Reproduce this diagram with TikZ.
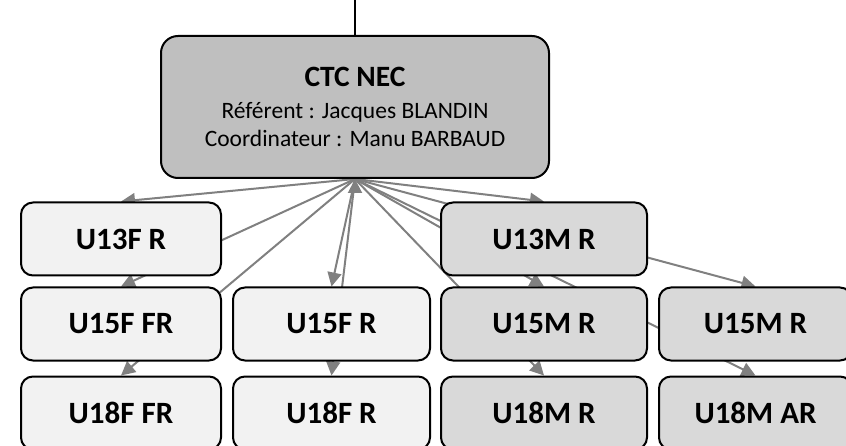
\documentclass[tikz,border=0pt]{standalone}
\usepackage{fontspec}
\setmainfont{Carlito}
\usetikzlibrary{positioning, arrows.meta, backgrounds}
\definecolor{headfill}{HTML}{BFBFBF}
\definecolor{girlfill}{HTML}{F2F2F2}
\definecolor{boyfill}{HTML}{D9D9D9}
\definecolor{linkgray}{HTML}{808080}

\begin{document}
\begin{tikzpicture}[x=1pt, y=1pt,
    team/.style={draw=black, line width=2pt, rounded corners=12pt,
        minimum width=200pt, minimum height=73pt, inner sep=0pt,
        font=\fontsize{31}{36}\selectfont\bfseries},
    girls/.style={team, fill=girlfill},
    boys/.style={team, fill=boyfill}]
    \useasboundingbox (0,0) rectangle (846,-446);
    % Add the head box
        \node[draw=black,
              line width=2pt,
              rounded corners=17pt,
              fill=headfill,
              minimum width=388pt,
              minimum height=142pt,
              align=center,
              font=\fontsize{23.5}{28}\selectfont
              ] (ctc) at (355,-107) {{\fontsize{29.5}{28}\selectfont\bfseries CTC NEC}\\[4pt]Référent : Jacques BLANDIN\\Coordinateur : Manu BARBAUD};
        \coordinate[above=36pt of ctc.north] (feed);
        \draw[line width=2pt] (feed) -- (ctc.north);
    % Add the teams
        \node[girls] (u13f) at (121,-239) {U13F R};
		\node[girls,
			below=10pt of u13f
			] (u15ffr) {U15F FR};
		\node[girls,
			below=14pt of u15ffr
			] (u18ffr) {U18F FR};
		\node[girls,
			minimum width=197pt,
			right=10pt of u15ffr
			] (u15fr) {U15F R};
		\node[girls,
			minimum width=197pt,
			right=10pt of u18ffr
			] (u18fr) {U18F R};
		\node[boys,
			minimum width=206pt,
			right=9pt of u15fr
			] (u15mr) {U15M R};
		\node[boys,
			minimum width=206pt,
			above=10pt of u15mr
			] (u13mr) {U13M R};
		\node[boys,
			minimum width=206pt,
			right=9pt of u18fr
			] (u18mr) {U18M R};
		\node[boys,
			minimum width=193pt,
			right=10pt of u15mr
			] (u15mb) {U15M R};
		\node[boys,
			minimum width=193pt,
			right=10pt of u18mr
			] (u18mar) {U18M AR};

    \begin{scope}[on background layer]
       \draw[line width=2pt,
        draw=linkgray,
        fill=linkgray,
        -{Triangle[length=14pt, width=14pt]}]
			(ctc.south) edge (u13f.north)
			(ctc.south) edge (u15ffr.north)
			(ctc.south) edge (u18ffr.north)
			(ctc.south) edge (u15fr.north)
			(ctc.south) edge (u18fr.north)
			(ctc.south) edge (u13mr.north)
			(ctc.south) edge (u15mr.north)
			(ctc.south) edge (u18mr.north)
			(ctc.south) edge (u15mb.north)
			(ctc.south) edge (u18mar.north);
    \end{scope}
\end{tikzpicture}
\end{document}
